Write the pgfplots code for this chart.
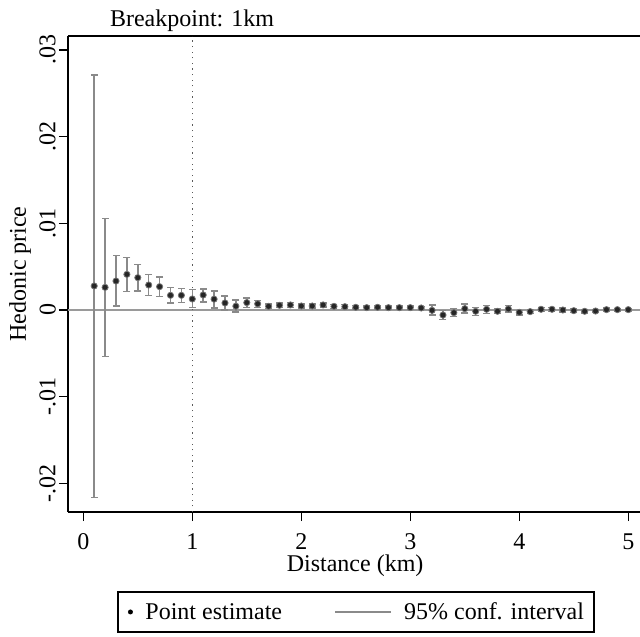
\documentclass[border=0pt]{standalone}
\usepackage{pgfplots}
\pgfplotsset{compat=1.18}
\usepackage{pgfplotstable}
\usepackage{fontspec}
\setmainfont{Liberation Serif}
\newcommand{\bigf}{\fontsize{24}{28}\selectfont}
\pgfplotstableread{
x est lo hi
0.1 0.00277 -0.02160 0.02710
0.2 0.00261 -0.00535 0.01057
0.3 0.00334 0.00046 0.00627
0.4 0.00411 0.00215 0.00608
0.5 0.00373 0.00219 0.00527
0.6 0.00288 0.00165 0.00407
0.7 0.00269 0.00154 0.00381
0.8 0.00169 0.00081 0.00261
0.9 0.00169 0.00085 0.00250
1.0 0.00127 0.00031 0.00234
1.1 0.00173 0.00092 0.00242
1.2 0.00125 0.00022 0.00221
1.3 0.00081 0.00000 0.00160
1.4 0.00044 -0.00023 0.00113
1.5 0.00085 0.00027 0.00140
1.6 0.00071 0.00031 0.00108
1.7 0.00042 0.00015 0.00069
1.8 0.00054 0.00027 0.00081
1.9 0.00058 0.00031 0.00085
2.0 0.00046 0.00023 0.00069
2.1 0.00046 0.00023 0.00069
2.2 0.00058 0.00035 0.00081
2.3 0.00042 0.00019 0.00065
2.4 0.00038 0.00015 0.00061
2.5 0.00031 0.00012 0.00050
2.6 0.00027 0.00008 0.00046
2.7 0.00031 0.00012 0.00050
2.8 0.00027 0.00008 0.00046
2.9 0.00027 0.00008 0.00046
3.0 0.00027 0.00008 0.00046
3.1 0.00023 0.00004 0.00042
3.2 -0.00004 -0.00058 0.00058
3.3 -0.00058 -0.00111 -0.00008
3.4 -0.00031 -0.00077 0.00015
3.5 0.00015 -0.00035 0.00069
3.6 -0.00015 -0.00065 0.00031
3.7 0.00008 -0.00038 0.00050
3.8 -0.00015 -0.00042 0.00012
3.9 0.00012 -0.00023 0.00050
4.0 -0.00027 -0.00058 -0.00004
4.1 -0.00019 -0.00042 0.00004
4.2 0.00008 -0.00015 0.00031
4.3 0.00008 -0.00015 0.00031
4.4 0.00000 -0.00023 0.00023
4.5 -0.00008 -0.00027 0.00012
4.6 -0.00015 -0.00035 0.00004
4.7 -0.00012 -0.00031 0.00008
4.8 0.00004 -0.00015 0.00023
4.9 0.00004 -0.00012 0.00019
5.0 0.00004 -0.00012 0.00019
}\datatable
\definecolor{cigray}{HTML}{8A8A8A}
\definecolor{zerogray}{HTML}{9A9A9A}
\begin{document}
\begin{tikzpicture}
\begin{axis}[
  scale only axis,
  width=572pt, height=476pt,
  xmin=-0.1404, xmax=5.1076,
  ymin=-0.0233, ymax=0.0316,
  axis x line=box, axis y line=left,
  axis line style={-, line width=2pt, black},
  every outer x axis line/.append style={-},
  every outer y axis line/.append style={-},
  xtick={0,1,2,3,4,5}, xticklabels={0,1,2,3,4,5},
  ytick={-0.02,-0.01,0,0.01,0.02,0.03},
  yticklabels={-.02,-.01,0,.01,.02,.03},
  scaled y ticks=false, scaled x ticks=false,
  xtick pos=bottom, ytick pos=left,
  tick align=outside,
  major tick length=9pt,
  tick style={line width=1.5pt, black},
  /pgf/number format/assume math mode=true,
  tick label style={font=\bigf},
  xticklabel style={yshift=-9pt},
  yticklabel style={rotate=90, anchor=south, inner sep=1pt},
  yticklabel shift=2pt,
  xlabel={Distance (km)},
  ylabel={Hedonic price},
  label style={font=\bigf},
  xlabel style={at={(axis description cs:0.502,-0.1134)}, anchor=center},
  ylabel style={at={(axis description cs:-0.0839,0.5)}, anchor=center, rotate=0},
  title={Breakpoint: 1km},
  title style={at={(axis description cs:0.2168,1.019)}, anchor=center, font=\bigf},
  legend columns=2,
  legend style={at={(axis description cs:0.5035,-0.166)}, anchor=north,
    draw=black, line width=1.5pt, font=\bigf,
    inner xsep=10pt, inner ysep=11pt,
    column sep=0pt, nodes={inner sep=0pt}},
]
\addplot[zerogray, line width=1.3pt, forget plot] coordinates {(-0.1404,0) (5.1076,0)};
\addplot[gray!70!black, line width=1.3pt, dash pattern=on 1.3pt off 4.3pt, forget plot] coordinates {(1,-0.0233) (1,0.0316)};
\addplot[only marks, mark=none, cigray, forget plot,
  error bars/.cd, y dir=both, y explicit,
  error bar style={line width=1.5pt, cigray}]
  table[x=x, y=est,
        y error plus expr=\thisrow{hi}-\thisrow{est},
        y error minus expr=\thisrow{est}-\thisrow{lo}] {\datatable};
\addplot[only marks, mark=-, mark size=3.5pt,
  mark options={draw=cigray, line width=1.5pt}, forget plot]
  table[x=x, y=hi] {\datatable};
\addplot[only marks, mark=-, mark size=3.5pt,
  mark options={draw=cigray, line width=1.5pt}, forget plot]
  table[x=x, y=lo] {\datatable};
\addplot[only marks, mark=*, mark size=3.1pt,
  mark options={fill=black!85, draw=black!55, line width=0.8pt}, forget plot]
  table[x=x, y=est] {\datatable};
\addlegendimage{legend image code/.code={
  \path[draw=none, fill=none] (0pt,-5pt) rectangle (17.5pt,5pt);
  \path[draw=none, fill=black] (2.5pt,0pt) circle (2.5pt);}}
\addlegendentry{Point estimate}
\addlegendimage{legend image code/.code={
  \path[draw=none, fill=none] (-53pt,-5pt) rectangle (69pt,5pt);
  \draw[cigray, line width=1.5pt] (0pt,0pt) -- (56pt,0pt);}}
\addlegendentry{95\% conf. interval\hspace{4pt}}
\end{axis}
\pgfresetboundingbox
\path ([xshift=-68pt,yshift=-124pt]current axis.south west) rectangle ([yshift=36pt]current axis.north east);
\end{tikzpicture}
\end{document}
